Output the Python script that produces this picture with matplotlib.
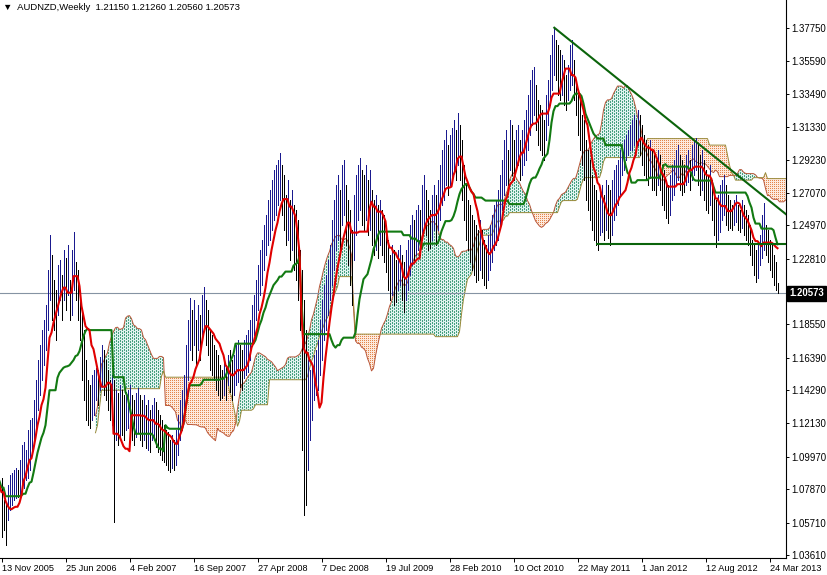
import numpy as np
import matplotlib
matplotlib.use("Agg")
import matplotlib.pyplot as plt
from matplotlib.collections import LineCollection
from matplotlib.path import Path
from matplotlib.transforms import ScaledTranslation, blended_transform_factory

plt.rcParams['font.family'] = ['Liberation Sans', 'DejaVu Sans']
plt.rcParams['lines.scale_dashes'] = False

title = "AUDNZD,Weekly"
last_ohlc = [1.21150, 1.21260, 1.20560, 1.20573]

# weekly bars before 13 Nov 2005, off screen, they only feed the ichimoku windows
pre_high = [1.112, 1.118, 1.120, 1.115, 1.110, 1.108, 1.112, 1.106, 1.100, 1.098,
            1.095, 1.092, 1.090, 1.088, 1.085, 1.088, 1.092, 1.096, 1.100, 1.104,
            1.102, 1.098, 1.103, 1.106, 1.100, 1.094, 1.090, 1.086, 1.084, 1.080]
pre_low = [1.095, 1.100, 1.102, 1.098, 1.092, 1.090, 1.094, 1.088, 1.082, 1.078,
           1.076, 1.072, 1.070, 1.066, 1.064, 1.068, 1.072, 1.076, 1.080, 1.084,
           1.082, 1.078, 1.080, 1.085, 1.080, 1.072, 1.066, 1.062, 1.058, 1.056]

# visible weekly bars, 13 Nov 2005 .. Apr 2013
high = [
    1.0859, 1.0716, 1.0697, 1.0813, 1.0878, 1.0891, 1.0910, 1.0923, 1.0910, 1.0975,
    1.1072, 1.1092, 1.1040, 1.1170, 1.1234, 1.1247, 1.1364, 1.1494, 1.1623, 1.1720,
    1.1818, 1.1882, 1.1980, 1.2206, 1.2433, 1.2304, 1.2142, 1.2077, 1.2239, 1.2271,
    1.2174, 1.2336, 1.2284, 1.2368, 1.2142, 1.2336, 1.2453, 1.2258, 1.2206, 1.2077,
    1.1947, 1.1818, 1.1623, 1.1494, 1.1461, 1.1526, 1.1558, 1.1571, 1.1558, 1.1643,
    1.1720, 1.1688, 1.1623, 1.1558, 1.1494, 1.1526, 1.1494, 1.1429, 1.1409, 1.1461,
    1.1429, 1.1396, 1.1416, 1.1429, 1.1461, 1.1396, 1.1364, 1.1409, 1.1442, 1.1396,
    1.1364, 1.1396, 1.1332, 1.1364, 1.1299, 1.1332, 1.1377, 1.1351, 1.1299, 1.1267,
    1.1234, 1.1202, 1.1170, 1.1157, 1.1105, 1.1137, 1.1105, 1.1170, 1.1267, 1.1364,
    1.1429, 1.1526, 1.1720, 1.1882, 1.2025, 1.1947, 1.2012, 1.1882, 1.1980, 1.1915,
    1.2044, 1.2096, 1.2012, 1.1947, 1.1818, 1.1785, 1.1720, 1.1688, 1.1656, 1.1591,
    1.1558, 1.1623, 1.1591, 1.1656, 1.1688, 1.1623, 1.1656, 1.1720, 1.1753, 1.1720,
    1.1688, 1.1753, 1.1785, 1.1818, 1.1882, 1.1980, 1.2044, 1.2142, 1.2239, 1.2336,
    1.2401, 1.2498, 1.2563, 1.2660, 1.2725, 1.2790, 1.2854, 1.2887, 1.2919, 1.2965,
    1.2887, 1.2822, 1.2692, 1.2790, 1.2660, 1.2725, 1.2628, 1.2595, 1.2530, 1.2336,
    1.2206, 1.2012, 1.1818, 1.1623, 1.1558, 1.1591, 1.1656, 1.1688, 1.1753, 1.1882,
    1.2012, 1.2109, 1.2174, 1.2271, 1.2368, 1.2530, 1.2660, 1.2757, 1.2822, 1.2725,
    1.2887, 1.2919, 1.2757, 1.2660, 1.2595, 1.2466, 1.2692, 1.2822, 1.2887, 1.2932,
    1.2854, 1.2822, 1.2887, 1.2790, 1.2854, 1.2725, 1.2660, 1.2692, 1.2628, 1.2660,
    1.2595, 1.2563, 1.2498, 1.2401, 1.2304, 1.2368, 1.2336, 1.2271, 1.2336, 1.2368,
    1.2304, 1.2258, 1.2336, 1.2401, 1.2498, 1.2563, 1.2530, 1.2595, 1.2628, 1.2595,
    1.2757, 1.2822, 1.2725, 1.2660, 1.2595, 1.2692, 1.2757, 1.2692, 1.2790, 1.2887,
    1.2984, 1.3049, 1.3114, 1.3016, 1.3081, 1.3127, 1.3178, 1.3114, 1.3224, 1.3146,
    1.3049, 1.2887, 1.2757, 1.2660, 1.2628, 1.2563, 1.2530, 1.2498, 1.2466, 1.2530,
    1.2466, 1.2401, 1.2368, 1.2433, 1.2498, 1.2563, 1.2628, 1.2660, 1.2725, 1.2822,
    1.2919, 1.3049, 1.3114, 1.2984, 1.3178, 1.3146, 1.3049, 1.3114, 1.3146, 1.3049,
    1.3114, 1.3178, 1.3243, 1.3340, 1.3438, 1.3502, 1.3522, 1.3405, 1.3308, 1.3276,
    1.3243, 1.3178, 1.3340, 1.3438, 1.3600, 1.3729, 1.3781, 1.3697, 1.3664, 1.3632,
    1.3600, 1.3567, 1.3470, 1.3535, 1.3664, 1.3697, 1.3567, 1.3438, 1.3340, 1.3308,
    1.3211, 1.3178, 1.3049, 1.2984, 1.2919, 1.2822, 1.2757, 1.2725, 1.2660, 1.2725,
    1.2757, 1.2692, 1.2790, 1.2757, 1.2725, 1.2790, 1.2854, 1.2887, 1.2919, 1.2984,
    1.3016, 1.3049, 1.3081, 1.3114, 1.3146, 1.3178, 1.3211, 1.3178, 1.3243, 1.3211,
    1.3146, 1.3081, 1.3049, 1.3016, 1.3049, 1.2984, 1.2952, 1.2919, 1.2984, 1.2952,
    1.2887, 1.2854, 1.2790, 1.2757, 1.2822, 1.2887, 1.2919, 1.2984, 1.3016, 1.2952,
    1.2919, 1.2887, 1.2952, 1.2984, 1.2919, 1.3016, 1.3049, 1.3062, 1.3016, 1.2952,
    1.2984, 1.2919, 1.2854, 1.2822, 1.2887, 1.2790, 1.2725, 1.2660, 1.2692, 1.2757,
    1.2790, 1.2822, 1.2757, 1.2692, 1.2660, 1.2628, 1.2660, 1.2692, 1.2628, 1.2595,
    1.2660, 1.2628, 1.2595, 1.2563, 1.2498, 1.2401, 1.2368, 1.2336, 1.2368, 1.2433,
    1.2563, 1.2641, 1.2498, 1.2466, 1.2401, 1.2368, 1.2304, 1.2258, 1.2126,
]
low = [
    1.0476, 1.0522, 1.0424, 1.0586, 1.0651, 1.0684, 1.0716, 1.0729, 1.0735, 1.0748,
    1.0781, 1.0794, 1.0846, 1.0859, 1.0910, 1.1008, 1.1105, 1.1170, 1.1299, 1.1396,
    1.1494, 1.1591, 1.1688, 1.1818, 1.2012, 1.1882, 1.1818, 1.1753, 1.1915, 1.2012,
    1.1882, 1.2012, 1.1947, 1.2044, 1.1882, 1.1915, 1.2077, 1.2012, 1.1882, 1.1753,
    1.1494, 1.1364, 1.1234, 1.1202, 1.1183, 1.1234, 1.1267, 1.1364, 1.1332, 1.1429,
    1.1461, 1.1396, 1.1364, 1.1299, 1.1234, 1.1202, 1.0573, 1.1105, 1.1072, 1.1118,
    1.1137, 1.1105, 1.1170, 1.1183, 1.1202, 1.1105, 1.1072, 1.1124, 1.1157, 1.1105,
    1.1066, 1.1105, 1.1053, 1.1040, 1.1027, 1.1105, 1.1105, 1.1060, 1.1027, 1.1008,
    1.0975, 1.0962, 1.0943, 1.0910, 1.0897, 1.0923, 1.0910, 1.0943, 1.1008, 1.1105,
    1.1170, 1.1234, 1.1396, 1.1494, 1.1688, 1.1623, 1.1720, 1.1591, 1.1688, 1.1623,
    1.1753, 1.1818, 1.1720, 1.1656, 1.1558, 1.1526, 1.1494, 1.1429, 1.1396, 1.1364,
    1.1377, 1.1396, 1.1364, 1.1461, 1.1416, 1.1364, 1.1396, 1.1461, 1.1481, 1.1448,
    1.1429, 1.1507, 1.1526, 1.1545, 1.1623, 1.1720, 1.1785, 1.1882, 1.1947, 1.2044,
    1.2109, 1.2206, 1.2304, 1.2368, 1.2401, 1.2466, 1.2530, 1.2563, 1.2628, 1.2660,
    1.2563, 1.2466, 1.2368, 1.2401, 1.2271, 1.2336, 1.2206, 1.2142, 1.2012, 1.1818,
    1.1040, 1.0619, 1.0684, 1.0910, 1.1105, 1.1234, 1.1364, 1.1396, 1.1429, 1.1526,
    1.1623, 1.1753, 1.1818, 1.1915, 1.2012, 1.2109, 1.2206, 1.2336, 1.2401, 1.2336,
    1.2498, 1.2563, 1.2368, 1.2239, 1.2109, 1.1980, 1.2271, 1.2433, 1.2530, 1.2595,
    1.2498, 1.2466, 1.2530, 1.2433, 1.2466, 1.2368, 1.2304, 1.2336, 1.2284, 1.2368,
    1.2304, 1.2258, 1.2193, 1.2077, 1.2012, 1.2044, 1.1980, 1.1999, 1.2077, 1.2109,
    1.2012, 1.1934, 1.2012, 1.2077, 1.2174, 1.2239, 1.2271, 1.2304, 1.2336, 1.2304,
    1.2401, 1.2466, 1.2433, 1.2336, 1.2349, 1.2401, 1.2466, 1.2368, 1.2466, 1.2530,
    1.2628, 1.2660, 1.2757, 1.2692, 1.2757, 1.2790, 1.2854, 1.2790, 1.2887, 1.2790,
    1.2660, 1.2530, 1.2401, 1.2336, 1.2258, 1.2206, 1.2174, 1.2129, 1.2142, 1.2206,
    1.2155, 1.2109, 1.2090, 1.2142, 1.2206, 1.2258, 1.2336, 1.2368, 1.2401, 1.2498,
    1.2595, 1.2692, 1.2757, 1.2757, 1.2854, 1.2822, 1.2790, 1.2854, 1.2887, 1.2790,
    1.2822, 1.2887, 1.2919, 1.2984, 1.3081, 1.3146, 1.3211, 1.3114, 1.3016, 1.2984,
    1.2952, 1.2919, 1.3049, 1.3146, 1.3276, 1.3373, 1.3470, 1.3438, 1.3340, 1.3308,
    1.3340, 1.3276, 1.3243, 1.3308, 1.3373, 1.3405, 1.3308, 1.3211, 1.3081, 1.2984,
    1.2887, 1.2790, 1.2660, 1.2595, 1.2530, 1.2466, 1.2401, 1.2368, 1.2336, 1.2433,
    1.2453, 1.2401, 1.2466, 1.2414, 1.2368, 1.2433, 1.2530, 1.2563, 1.2628, 1.2692,
    1.2822, 1.2854, 1.2919, 1.2952, 1.2984, 1.2984, 1.3016, 1.2984, 1.3016, 1.2952,
    1.2887, 1.2822, 1.2790, 1.2757, 1.2803, 1.2725, 1.2725, 1.2692, 1.2757, 1.2725,
    1.2628, 1.2595, 1.2543, 1.2511, 1.2563, 1.2660, 1.2692, 1.2757, 1.2790, 1.2725,
    1.2692, 1.2712, 1.2757, 1.2777, 1.2725, 1.2790, 1.2822, 1.2854, 1.2757, 1.2692,
    1.2725, 1.2660, 1.2595, 1.2576, 1.2628, 1.2530, 1.2433, 1.2356, 1.2401, 1.2453,
    1.2530, 1.2563, 1.2498, 1.2466, 1.2479, 1.2466, 1.2498, 1.2517, 1.2466, 1.2453,
    1.2479, 1.2433, 1.2401, 1.2368, 1.2304, 1.2239, 1.2174, 1.2129, 1.2155, 1.2239,
    1.2284, 1.2336, 1.2304, 1.2258, 1.2206, 1.2161, 1.2109, 1.2077, 1.2056,
]

date_labels = ["13 Nov 2005", "25 Jun 2006", "4 Feb 2007", "16 Sep 2007", "27 Apr 2008",
               "7 Dec 2008", "19 Jul 2009", "28 Feb 2010", "10 Oct 2010", "22 May 2011",
               "1 Jan 2012", "12 Aug 2012", "24 Mar 2013"]
label_step = 32  # bars between date labels

price_ticks = [1.37750, 1.35590, 1.33490, 1.31330, 1.29230, 1.27070, 1.24970, 1.22810,
               1.18550, 1.16390, 1.14290, 1.12130, 1.09970, 1.07870, 1.05710, 1.03610]

# hand drawn lines on the chart (bar index, price)
resist_bars = [276, 362]
resist_prices = [1.3781, 1.2884]
support_bar = 297
support_price = 1.2376

# ichimoku settings
tenkan_n, kijun_n, senkou_n = 9, 26, 52

# ---------------------------------------------------------------
H = np.array(pre_high + high)
L = np.array(pre_low + low)
n_pre = len(pre_high)
bar_x = np.arange(len(H)) - n_pre


def midline(n):
    out = np.full(len(H), np.nan)
    for k in range(n - 1, len(H)):
        out[k] = (H[k - n + 1:k + 1].max() + L[k - n + 1:k + 1].min()) / 2
    return out


tenkan = midline(tenkan_n)
kijun = midline(kijun_n)
span_a = (tenkan + kijun) / 2
span_b = midline(senkou_n)
span_x = bar_x + kijun_n

W, Hpx = 827, 575
fig = plt.figure(figsize=(W / 100, Hpx / 100), dpi=100)
ax = fig.add_axes([0, 17 / Hpx, 786 / W, 558 / Hpx])
x_left, x_right = -0.75, 392.25
y_bottom, y_top = 1.03417, 1.39564
ax.set_xlim(x_left, x_right)
ax.set_ylim(y_bottom, y_top)

# cloud, only where both spans exist
ok = ~np.isnan(span_b)
sx, sa, sb = span_x[ok], span_a[ok], span_b[ok]
bull = sa >= sb
green = ax.fill_between(sx, sa, sb, where=bull, interpolate=True,
                        facecolor='#dff3ef', edgecolor='none', zorder=1)
orange = ax.fill_between(sx, sa, sb, where=~bull, interpolate=True,
                         facecolor='#fde9dd', edgecolor='none', zorder=1)


def hatch(poly, color, on, off, stagger):
    paths = [p for p in poly.get_paths() if len(p.vertices)]
    if not paths:
        return
    clip = Path.make_compound_path(*paths)
    cols = np.arange(0, int(np.floor(x_right)) + 1)
    segs = [[(c, y_bottom), (c, y_top)] for c in cols]
    styles = [((on if (stagger and c % 2) else 0.0), (on, off)) for c in cols]
    lc = LineCollection(segs, colors=color, linewidths=0.72, linestyles=styles,
                        antialiaseds=False, zorder=1.2)
    ax.add_collection(lc)
    lc.set_clip_path(clip, ax.transData)


hatch(green, '#46a080', 1.44, 1.44, True)
hatch(orange, '#e3854a', 0.72, 1.44, False)

ax.plot(sx, sa, color='#b9573a', lw=0.7, zorder=1.4)
ax.plot(sx, sb, color='#9a8a3a', lw=0.7, zorder=1.4)

# current price line
ax.axhline(last_ohlc[3], color='#8593a3', lw=0.8, zorder=1.6)

# bars, navy when the bar moves up, black when down
vis = bar_x >= 0
mids = (H + L) / 2
up = np.r_[True, mids[1:] >= mids[:-1]]
segs = [[(x, l), (x, h)] for x, h, l in zip(bar_x[vis], H[vis], L[vis])]
cols = ['#1a1a8f' if u else '#000000' for u in up[vis]]
ax.add_collection(LineCollection(segs, colors=cols, linewidths=0.72,
                                 antialiaseds=False, zorder=2))

# ichimoku lines
ax.plot(bar_x, kijun, color='#127a12', lw=1.5, zorder=3)
ax.plot(bar_x, tenkan, color='#e00000', lw=1.5, zorder=3.1)

# trend lines
slope = (resist_prices[1] - resist_prices[0]) / (resist_bars[1] - resist_bars[0])
ax.plot([resist_bars[0], x_right + 2],
        [resist_prices[0], resist_prices[0] + slope * (x_right + 2 - resist_bars[0])],
        color='#0b640b', lw=1.5, zorder=3.5, solid_capstyle='butt')
ax.plot([support_bar, x_right + 2], [support_price, support_price],
        color='#0b640b', lw=1.5, zorder=3.5, solid_capstyle='butt')

# axes styling
for s in ['left', 'top']:
    ax.spines[s].set_visible(False)
for s in ['right', 'bottom']:
    ax.spines[s].set_color('black')
    ax.spines[s].set_linewidth(0.8)

ax.set_yticks(price_ticks)
ax.set_yticklabels([f'{p:.5f}' for p in price_ticks])
ax.tick_params(axis='y', left=False, right=True, labelleft=False, labelright=True,
               length=2.5, width=0.7, pad=1.5, labelsize=6.9, direction='out')

ax.set_xticks(np.arange(len(date_labels)) * label_step)
ax.set_xticklabels(date_labels)
ax.tick_params(axis='x', length=3, width=0.7, pad=1, labelsize=6.6, direction='out')
shift = ScaledTranslation(1 / 100, 0, fig.dpi_scale_trans)
for lab in ax.get_xticklabels():
    lab.set_horizontalalignment('left')
    lab.set_transform(lab.get_transform() + shift)

# last price tag
tr = blended_transform_factory(ax.transAxes, ax.transData)
ax.text(1.0, last_ohlc[3], f'{last_ohlc[3]:.5f}',
        transform=tr + ScaledTranslation(3 / 100, 0, fig.dpi_scale_trans),
        ha='left', va='center', color='white', fontsize=6.9, fontweight='bold',
        bbox=dict(boxstyle='square,pad=0.25', facecolor='black', edgecolor='black'),
        clip_on=False, zorder=10)

# header
head = "\u25bc  " + title + "  " + " ".join(f'{v:.5f}' for v in last_ohlc)
fig.text(3 / W, 1 - 7 / Hpx, head, fontsize=6.8, ha='left', va='center', color='black')

fig.savefig('out.png', dpi=100)
